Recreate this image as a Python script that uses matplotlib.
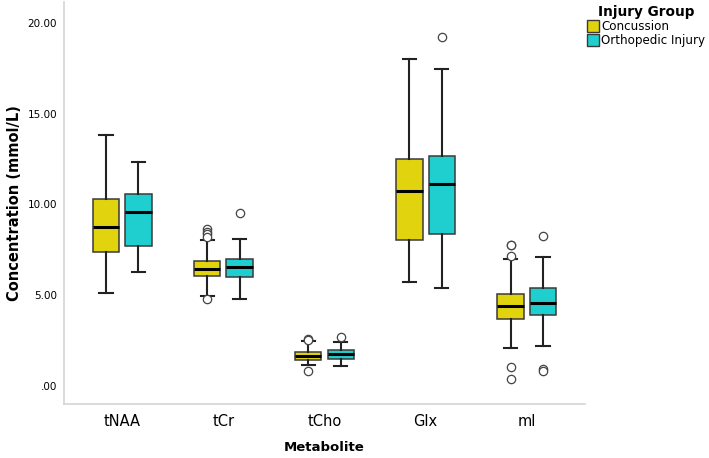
import matplotlib
matplotlib.use("Agg")
import matplotlib.pyplot as plt
from matplotlib.patches import Patch

# Box summary values (mmol/L)
metabolites = ["tNAA", "tCr", "tCho", "Glx", "mI"]
groups = ["Concussion", "Orthopedic Injury"]
colors = ["#E1D40E", "#1FCFCF"]

conc_whislo = [5.10, 4.96, 1.14, 5.70, 2.06]
conc_q1 = [7.37, 6.08, 1.42, 8.03, 3.69]
conc_med = [8.77, 6.43, 1.62, 10.73, 4.39]
conc_q3 = [10.29, 6.89, 1.84, 12.53, 5.07]
conc_whishi = [13.84, 8.03, 2.46, 18.0, 7.00]
conc_fliers = [[], [8.67, 8.49, 8.35, 8.20, 4.80], [2.59, 2.52, 0.79], [], [7.77, 7.74, 7.18, 1.05, 0.37]]

orth_whislo = [6.30, 4.78, 1.07, 5.37, 2.22]
orth_q1 = [7.70, 6.01, 1.47, 8.36, 3.90]
orth_med = [9.59, 6.56, 1.75, 11.15, 4.54]
orth_q3 = [10.57, 7.00, 1.95, 12.70, 5.37]
orth_whishi = [12.35, 8.10, 2.43, 17.49, 7.11]
orth_fliers = [[], [9.52], [2.70], [19.22], [8.25, 0.92, 0.80]]

yticks = [0, 5, 10, 15, 20]
ytick_labels = [".00", "5.00", "10.00", "15.00", "20.00"]


def make_stats(lo, q1, med, q3, hi, fl):
    return [dict(whislo=a, q1=b, med=c, q3=d, whishi=e, fliers=f)
            for a, b, c, d, e, f in zip(lo, q1, med, q3, hi, fl)]


fig = plt.figure(figsize=(7.09, 4.58), dpi=100)
ax = fig.add_axes([0.0903, 0.118, 0.7347, 0.877])

all_stats = [
    make_stats(conc_whislo, conc_q1, conc_med, conc_q3, conc_whishi, conc_fliers),
    make_stats(orth_whislo, orth_q1, orth_med, orth_q3, orth_whishi, orth_fliers),
]
offsets = [-0.16, 0.16]

for stats, off, col in zip(all_stats, offsets, colors):
    pos = [i + off for i in range(len(metabolites))]
    ax.bxp(stats, positions=pos, widths=0.26, capwidths=0.13, patch_artist=True,
           manage_ticks=False,
           boxprops=dict(facecolor=col, edgecolor="#3a3a3a", linewidth=1.1),
           medianprops=dict(color="black", linewidth=2.2),
           whiskerprops=dict(color="#222222", linewidth=1.5),
           capprops=dict(color="#222222", linewidth=1.5),
           flierprops=dict(marker="o", markerfacecolor="white", markeredgecolor="#444444",
                           markersize=6, markeredgewidth=0.9, linestyle="none"))

ax.set_xlim(-0.575, 4.575)
ax.set_ylim(-1.0, 21.15)
ax.set_xticks(range(len(metabolites)))
ax.set_xticklabels(metabolites, fontsize=10.5)
ax.set_yticks(yticks)
ax.set_yticklabels(ytick_labels, fontsize=7.5)
ax.tick_params(axis="y", length=0, pad=5)
ax.tick_params(axis="x", length=0, pad=7)

for s in ["top", "right"]:
    ax.spines[s].set_visible(False)
for s in ["left", "bottom"]:
    ax.spines[s].set_color("#d4d4d4")
    ax.spines[s].set_linewidth(1.2)

ax.set_ylabel("Concentration (mmol/L)", fontsize=10.5, fontweight="bold", labelpad=4)
ax.set_xlabel("Metabolite", fontsize=9.5, fontweight="bold", labelpad=9)

handles = [Patch(facecolor=c, edgecolor="#3a3a3a", linewidth=1.0, label=g)
           for c, g in zip(colors, groups)]
leg = fig.legend(handles=handles, loc="upper left", bbox_to_anchor=(0.824, 0.995),
                 frameon=False, title="Injury Group", fontsize=8.6,
                 handlelength=1.0, handleheight=1.1, handletextpad=0.2,
                 labelspacing=0.1, borderpad=0.2, borderaxespad=0)
leg.get_title().set_fontweight("bold")
leg.get_title().set_fontsize(9.8)

fig.savefig("out.png", dpi=100)
